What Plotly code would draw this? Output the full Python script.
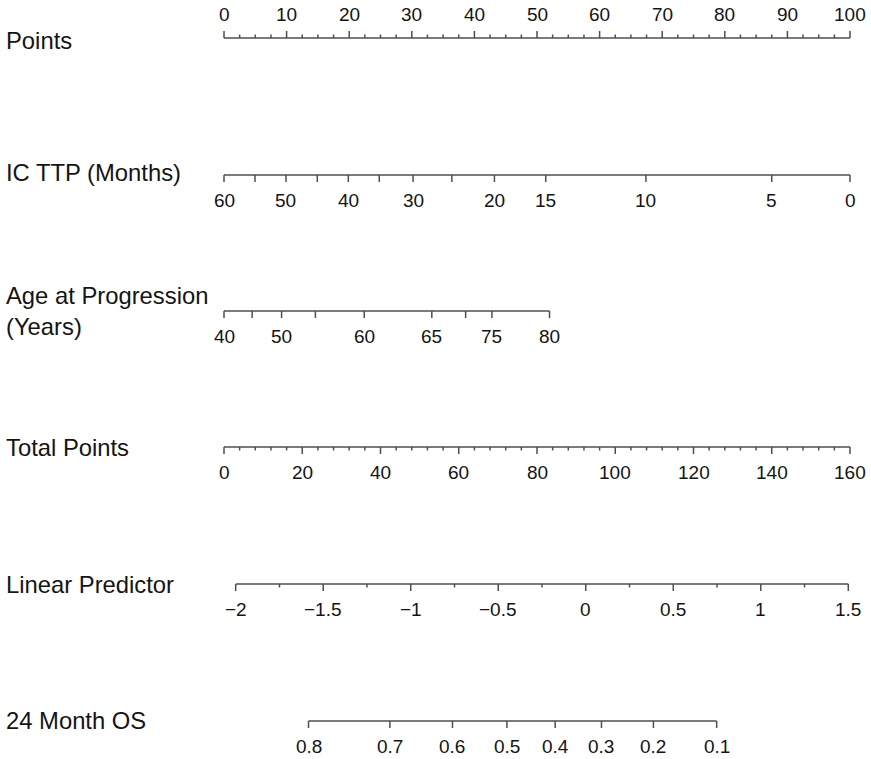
import plotly.graph_objects as go

# ---------------- data ----------------
points_major = [0, 10, 20, 30, 40, 50, 60, 70, 80, 90, 100]
points_minor_step = 2.5

ttp_values = [60, 55, 50, 45, 40, 35, 30, 25, 20, 15, 10, 5, 0]
ttp_points = [0, 4.95, 9.9, 14.9, 19.86, 24.8, 30.2, 36.4, 43.2, 51.4, 67.4, 87.5, 100]
ttp_labeled = [60, 50, 40, 30, 20, 15, 10, 5, 0]

age_values = [40, 45, 50, 55, 60, 65, 70, 75, 80]
age_points = [0, 4.5, 9.2, 14.6, 22.4, 33.2, 38.6, 42.8, 52.0]
age_labeled = [40, 50, 60, 65, 75, 80]

total_major = [0, 20, 40, 60, 80, 100, 120, 140, 160]
total_minor_step = 4

lp_major = [-2, -1.5, -1, -0.5, 0, 0.5, 1, 1.5]
lp_minor_step = 0.25

os_values = [0.8, 0.7, 0.6, 0.5, 0.4, 0.3, 0.2, 0.1]
os_points = [13.5, 26.5, 36.5, 45.2, 52.9, 60.3, 68.6, 78.7]

row_labels = ["Points", "IC TTP (Months)", "Age at Progression<br>(Years)",
              "Total Points", "Linear Predictor", "24 Month OS"]

# ---------------- layout constants ----------------
W, H = 871, 759
row_y = [38, 175, 311, 447, 584, 721]
label_y = [40, 172, 311, 447, 584, 720]
MAJ, MIN = 7, 3.5
LINE = "#4f4f4f"
TXT = "#141414"
FONT = "Liberation Sans, Arial, sans-serif"
TICK_FS = 19
LAB_FS = 23.8

px_per_pt = (850 - 224) / 100.0
x_rng = [-224 / px_per_pt, (W - 224) / px_per_pt]
x2_rng = [v * 1.6 for v in x_rng]
lp_px = (848.3 - 235.7) / 3.5
x3_rng = [-2 - 235.7 / lp_px, 1.5 + (W - 848.3) / lp_px]

fig = go.Figure()
annotations = []


def fmt(v):
    s = ("%g" % v)
    return s.replace("-", "\u2212")


def add_axis(xs_line, y, majors, minors, labels, label_xs, xaxis, up=False):
    sgn = -1 if up else 1
    lx, ly = [], []
    lx += [xs_line[0], xs_line[1], None]
    ly += [y, y, None]
    for m in majors:
        lx += [m, m, None]
        ly += [y, y + sgn * MAJ, None]
    for m in minors:
        lx += [m, m, None]
        ly += [y, y + sgn * MIN, None]
    fig.add_trace(go.Scatter(x=lx, y=ly, mode="lines", xaxis=xaxis, yaxis="y",
                             line=dict(color=LINE, width=1.5), hoverinfo="skip",
                             showlegend=False))
    gap = MAJ + 4 if up else MAJ + 6
    for t, xv in zip(labels, label_xs):
        annotations.append(dict(x=xv, y=y + sgn * gap, text=t, showarrow=False,
                                xref=xaxis, yref="y",
                                yanchor="bottom" if up else "top",
                                font=dict(size=TICK_FS, color=TXT, family=FONT)))


# Points
pmin = [i * points_minor_step for i in range(int(100 / points_minor_step) + 1)]
pmin = [v for v in pmin if v not in points_major]
add_axis([0, 100], row_y[0], points_major, pmin,
         [fmt(v) for v in points_major], points_major, "x", up=True)

# IC TTP
add_axis([ttp_points[0], ttp_points[-1]], row_y[1], ttp_points, [],
         [fmt(v) for v in ttp_values if v in ttp_labeled],
         [p for v, p in zip(ttp_values, ttp_points) if v in ttp_labeled], "x")

# Age
add_axis([age_points[0], age_points[-1]], row_y[2], age_points, [],
         [fmt(v) for v in age_values if v in age_labeled],
         [p for v, p in zip(age_values, age_points) if v in age_labeled], "x")

# Total points
tmin = [i * total_minor_step for i in range(int(160 / total_minor_step) + 1)]
tmin = [v for v in tmin if v not in total_major]
add_axis([0, 160], row_y[3], total_major, tmin,
         [fmt(v) for v in total_major], total_major, "x2")

# Linear predictor
lmin = [-2 + i * lp_minor_step for i in range(int(3.5 / lp_minor_step) + 1)]
lmin = [v for v in lmin if all(abs(v - m) > 1e-9 for m in lp_major)]
add_axis([-2, 1.5], row_y[4], lp_major, lmin,
         [fmt(v) for v in lp_major], lp_major, "x3")

# 24 month OS
add_axis([os_points[0], os_points[-1]], row_y[5], os_points, [],
         [fmt(v) for v in os_values], os_points, "x")

# row labels
for i, t in enumerate(row_labels):
    annotations.append(dict(x=4 / W, y=label_y[i], xref="paper", yref="y", text=t,
                            showarrow=False, xanchor="left", yanchor="middle", align="left",
                            font=dict(size=LAB_FS, color=TXT, family=FONT)))

axis_off = dict(visible=False, showgrid=False, zeroline=False, fixedrange=True)
fig.update_layout(
    width=W, height=H, margin=dict(l=0, r=0, t=0, b=0),
    paper_bgcolor="white", plot_bgcolor="white",
    xaxis=dict(range=x_rng, domain=[0, 1], **axis_off),
    xaxis2=dict(range=x2_rng, overlaying="x", domain=[0, 1], **axis_off),
    xaxis3=dict(range=x3_rng, overlaying="x", domain=[0, 1], **axis_off),
    yaxis=dict(range=[H, 0], **axis_off),
    annotations=annotations,
    showlegend=False,
)

fig.write_html("out.html", config={"displayModeBar": False},
               post_script="document.body.style.margin='0px';document.body.style.overflow='hidden';")
